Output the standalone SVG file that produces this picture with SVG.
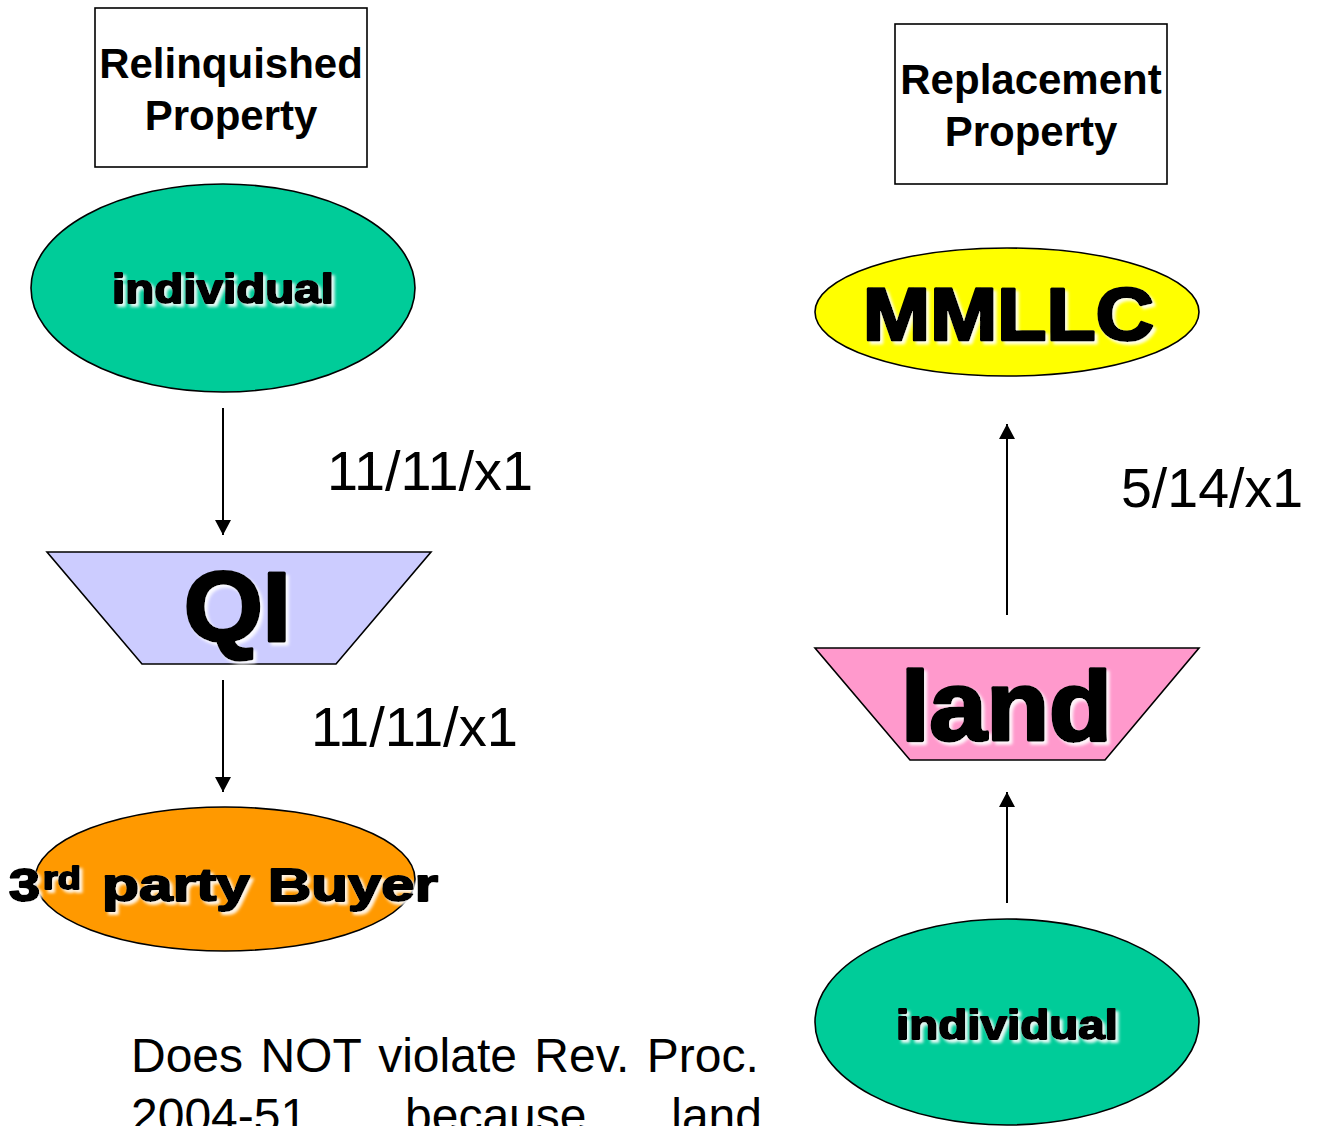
<svg xmlns="http://www.w3.org/2000/svg" width="1318" height="1126" viewBox="0 0 1318 1126">
  <defs>
    <!-- soft light shadow behind the heavy labels -->
    <filter id="lift" x="-10%" y="-20%" width="130%" height="150%">
      <feGaussianBlur in="SourceAlpha" stdDeviation="1.6" result="blur"/>
      <feOffset in="blur" dx="3" dy="3" result="off"/>
      <feFlood flood-color="#ffffff" flood-opacity="0.9"/>
      <feComposite operator="in" in2="off" result="shadow"/>
      <feMerge>
        <feMergeNode in="shadow"/>
        <feMergeNode in="SourceGraphic"/>
      </feMerge>
    </filter>
    <marker id="head" viewBox="0 0 15 16" refX="15" refY="8" markerWidth="15" markerHeight="16" markerUnits="userSpaceOnUse" orient="auto">
      <path d="M0,0 L15,8 L0,16 Z" fill="#000"/>
    </marker>
  </defs>
  <style>
    .shape { stroke: #000; stroke-width: 1.6; }
    .box { fill: #fff; stroke: #000; stroke-width: 1.6; }
    .title { font-family: "Liberation Sans", Arial, sans-serif; font-weight: bold; font-size: 42px; fill: #000; text-anchor: middle; }
    .heavy { font-family: "Liberation Sans", Arial, sans-serif; font-weight: bold; fill: #000; stroke: #000; stroke-linejoin: round; filter: url(#lift); }
    .date { font-family: "Liberation Sans", Arial, sans-serif; font-size: 56px; fill: #000; }
    .note { font-family: "Liberation Sans", Arial, sans-serif; font-size: 48px; fill: #000; }
    .conn { stroke: #000; stroke-width: 2; fill: none; }
  </style>

  <rect width="1318" height="1126" fill="#fff"/>

  <!-- connectors -->
  <g id="connectors">
    <line class="conn" x1="223" y1="408" x2="223" y2="535" marker-end="url(#head)"/>
    <line class="conn" x1="223" y1="680" x2="223" y2="792" marker-end="url(#head)"/>
    <line class="conn" x1="1007" y1="615" x2="1007" y2="424" marker-end="url(#head)"/>
    <line class="conn" x1="1007" y1="903" x2="1007" y2="792" marker-end="url(#head)"/>
  </g>

  <!-- headings -->
  <g id="relinquished-heading">
    <rect class="box" x="95" y="8" width="272" height="159"/>
    <text class="title" x="231" y="78">Relinquished</text>
    <text class="title" x="231" y="130">Property</text>
  </g>
  <g id="replacement-heading">
    <rect class="box" x="895" y="24" width="272" height="160"/>
    <text class="title" x="1031" y="94">Replacement</text>
    <text class="title" x="1031" y="146">Property</text>
  </g>

  <!-- relinquished side -->
  <g id="individual-left">
    <ellipse class="shape" cx="223" cy="288" rx="192" ry="104" fill="#00CC99"/>
    <text class="heavy" x="112" y="303" font-size="41" stroke-width="2" textLength="222" lengthAdjust="spacingAndGlyphs">individual</text>
  </g>
  <g id="qi">
    <polygon class="shape" points="47,552 431,552 336,664 142,664" fill="#CCCCFF"/>
    <text class="heavy" x="184" y="641" font-size="99" stroke-width="3.5" textLength="107" lengthAdjust="spacingAndGlyphs">QI</text>
  </g>
  <g id="buyer">
    <ellipse class="shape" cx="225" cy="879" rx="190" ry="72" fill="#FF9900"/>
    <text class="heavy" y="901" font-size="46" stroke-width="2"><tspan x="9" textLength="31" lengthAdjust="spacingAndGlyphs">3</tspan><tspan x="43" y="889" font-size="31" textLength="38" lengthAdjust="spacingAndGlyphs">rd</tspan><tspan x="102" y="901" textLength="148" lengthAdjust="spacingAndGlyphs">party</tspan><tspan x="268" textLength="170" lengthAdjust="spacingAndGlyphs">Buyer</tspan></text>
  </g>

  <!-- replacement side -->
  <g id="mmllc">
    <ellipse class="shape" cx="1007" cy="312" rx="192" ry="64" fill="#FFFF00"/>
    <text class="heavy" x="863" y="340" font-size="74" stroke-width="3" textLength="291" lengthAdjust="spacingAndGlyphs">MMLLC</text>
  </g>
  <g id="land">
    <polygon class="shape" points="815,648 1199,648 1105,760 910,760" fill="#FF99CC"/>
    <text class="heavy" x="901" y="740" font-size="98" stroke-width="3.5" textLength="211" lengthAdjust="spacingAndGlyphs">land</text>
  </g>
  <g id="individual-right">
    <ellipse class="shape" cx="1007" cy="1022" rx="192" ry="103" fill="#00CC99"/>
    <text class="heavy" x="896" y="1039" font-size="41" stroke-width="2" textLength="222" lengthAdjust="spacingAndGlyphs">individual</text>
  </g>

  <!-- transfer dates -->
  <g id="dates">
    <text class="date" x="327" y="490" textLength="206" lengthAdjust="spacingAndGlyphs">11/11/x1</text>
    <text class="date" x="311" y="746" textLength="207" lengthAdjust="spacingAndGlyphs">11/11/x1</text>
    <text class="date" x="1121" y="507" textLength="182" lengthAdjust="spacingAndGlyphs">5/14/x1</text>
  </g>

  <!-- explanatory note (justified, runs past the lower edge) -->
  <g id="note">
    <text class="note" x="131" y="1072" word-spacing="4">Does NOT violate Rev. Proc.</text>
    <text class="note" x="131" y="1132">2004-51,</text>
    <text class="note" x="405" y="1132">because</text>
    <text class="note" x="762" y="1132" text-anchor="end">land</text>
  </g>
</svg>
